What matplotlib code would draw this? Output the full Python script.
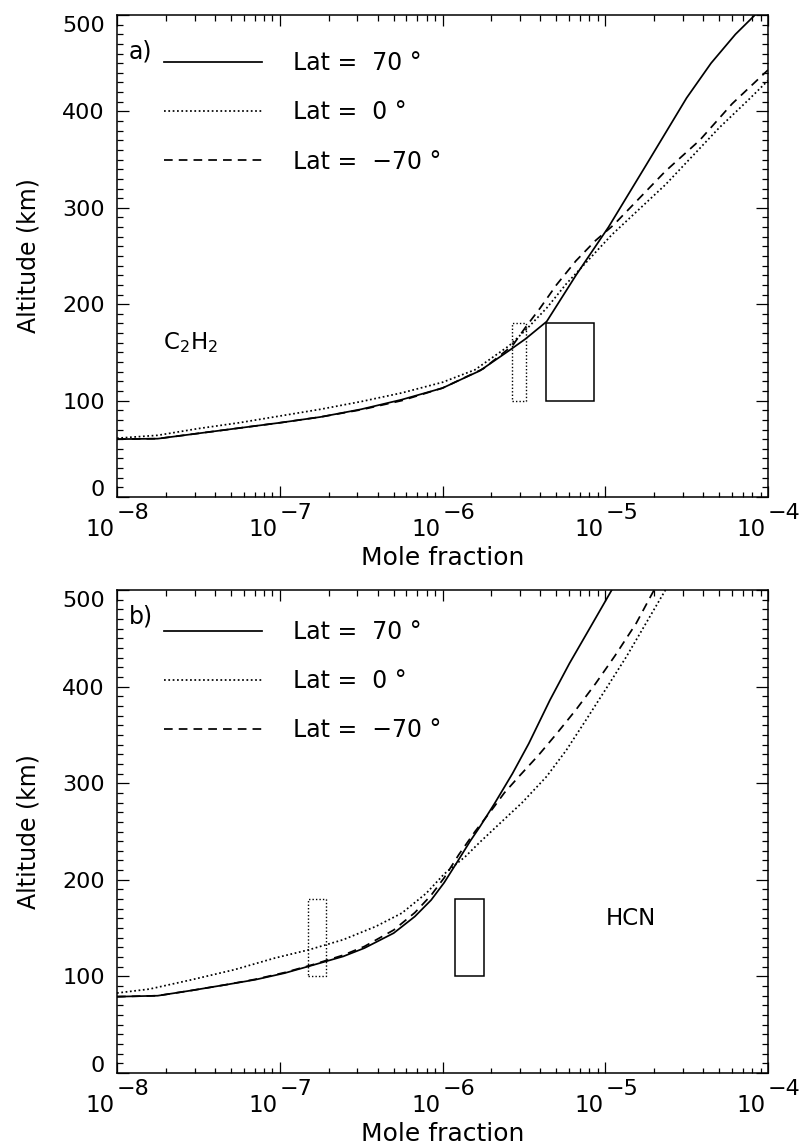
import numpy as np
import matplotlib
matplotlib.use("Agg")
import matplotlib.pyplot as plt
from matplotlib.patches import Rectangle
from matplotlib.ticker import LogLocator, MultipleLocator, NullFormatter, FixedLocator
from matplotlib.transforms import ScaledTranslation

plt.rcParams['font.family'] = ['DejaVu Sans']
plt.rcParams['mathtext.fontset'] = 'dejavusans'

# ---------------- data (log10 mole fraction, altitude km) ----------------
lat_labels = ['Lat =  70 \u00b0', 'Lat =  0 \u00b0', 'Lat =  \u221270 \u00b0']

# Panel a: C2H2
c2h2_lat70_logx = [-8.0, -7.75, -7.5, -7.25, -7.0, -6.75, -6.5, -6.25, -6.0, -5.77, -5.59,
                   -5.49, -5.36, -5.18, -4.98, -4.75, -4.5, -4.35, -4.2, -4.08]
c2h2_lat70_alt = [60, 60.5, 66, 71.5, 77, 83, 91, 101, 113, 131, 152,
                  164, 182, 230, 280, 344, 414, 450, 480, 500]

c2h2_lat0_logx = [-8.0, -7.75, -7.5, -7.25, -7.0, -6.75, -6.5, -6.25, -6.0, -5.8, -5.59,
                  -5.49, -5.36, -5.24, -4.96, -4.63, -4.3, -4.12, -4.0]
c2h2_lat0_alt = [61, 64, 71, 77, 84, 91, 99, 108, 119, 132, 157,
                 173, 196, 221, 272, 324, 383, 412, 432]

c2h2_latm70_logx = [-8.0, -7.75, -7.5, -7.25, -7.0, -6.75, -6.5, -6.25, -6.0, -5.75, -5.57,
                    -5.49, -5.40, -5.30, -5.18, -5.06, -4.95, -4.83, -4.63, -4.42, -4.22, -4.0]
c2h2_latm70_alt = [60, 60.5, 66, 71.5, 77, 83, 90.5, 100, 113, 133, 157,
                   176, 196, 220, 245, 266, 282, 303, 338, 370, 408, 443]

# Panel b: HCN
hcn_lat70_logx = [-8.0, -7.75, -7.54, -7.33, -7.15, -6.97, -6.79, -6.61, -6.48, -6.30, -6.17,
                  -6.07, -5.99, -5.915, -5.83, -5.77, -5.68, -5.57, -5.47, -5.34, -5.22, -5.10, -4.96]
hcn_lat70_alt = [79, 80, 85.5, 91.4, 96.6, 103.4, 112, 120.7, 129.3, 144.8, 162,
                 179, 197, 217, 240, 255, 279, 310, 341, 386, 424, 459, 500]

hcn_lat0_logx = [-8.0, -7.8, -7.54, -7.28, -7.03, -6.82, -6.61, -6.41, -6.25, -6.10, -5.99,
                 -5.86, -5.77, -5.65, -5.51, -5.36, -5.24, -5.12, -5.0, -4.87, -4.75, -4.63]
hcn_lat0_alt = [82.8, 86.9, 96.6, 106.9, 119, 127.6, 138, 151.7, 165.5, 186, 206,
                224, 239, 258, 280, 307, 334, 365, 396.5, 431, 465.5, 500]

hcn_latm70_logx = [-8.0, -7.75, -7.54, -7.33, -7.15, -6.97, -6.79, -6.61, -6.48, -6.30, -6.17,
                   -6.07, -5.99, -5.90, -5.80, -5.69, -5.62, -5.53, -5.41, -5.30, -5.18, -5.06,
                   -4.94, -4.81, -4.70]
hcn_latm70_alt = [79, 80, 85.5, 91.4, 97, 104, 112.5, 122, 131, 148, 166,
                  184, 202, 226, 250, 274, 290, 307, 329, 351, 376, 403,
                  432, 465.5, 500]

# observation boxes: (x_min, x_max, alt_min, alt_max)
c2h2_box_solid = (4.35e-6, 8.5e-6, 100, 180)
c2h2_box_dotted = (2.66e-6, 3.27e-6, 100, 180)
hcn_box_solid = (1.2e-6, 1.8e-6, 100, 180)
hcn_box_dotted = (1.5e-7, 1.92e-7, 100, 180)

x_tick_exponents = [-8, -7, -6, -5, -4]
y_ticks = [0, 100, 200, 300, 400, 500]

# ---------------- figure ----------------
W, H = 806, 1145
fig = plt.figure(figsize=(W / 100, H / 100), dpi=100)

ax_a = fig.add_axes([117 / W, 1 - 497 / H, 651 / W, 482 / H])
ax_b = fig.add_axes([117 / W, 1 - 1073 / H, 651 / W, 483 / H])

solid_kw = dict(color='black', lw=1.25, linestyle='-')
dot_kw = dict(color='black', lw=1.25, linestyle=(0, (1, 1.5)))
dash_kw = dict(color='black', lw=1.25, linestyle=(0, (5, 3.5)))


def px(p):
    return p * 0.72  # pixels -> points at 100 dpi


def setup_axis(ax):
    ax.set_xscale('log')
    ax.set_xlim(1e-8, 1e-4)
    ax.set_ylim(0, 500)
    ax.xaxis.set_major_locator(FixedLocator([10.0 ** e for e in x_tick_exponents]))
    ax.xaxis.set_minor_locator(LogLocator(base=10, subs=np.arange(2, 10), numticks=20))
    ax.xaxis.set_minor_formatter(NullFormatter())
    ax.set_yticks(y_ticks)
    ax.yaxis.set_minor_locator(MultipleLocator(10))
    ax.tick_params(axis='both', which='both', direction='in', top=True, right=True,
                   width=0.9, colors='black')
    ax.tick_params(axis='x', which='major', length=px(11), labelbottom=False)
    ax.tick_params(axis='x', which='minor', length=px(5.5))
    ax.tick_params(axis='y', which='major', length=px(12), labelsize=16, pad=px(12))
    ax.tick_params(axis='y', which='minor', length=px(6))
    for s in ax.spines.values():
        s.set_linewidth(1.1)
    # custom decade labels with full-size exponents
    for e in x_tick_exponents:
        ax.annotate('10', xy=(10.0 ** e, 0), xycoords=('data', 'axes fraction'),
                    xytext=(px(-2), px(-21)), textcoords='offset points',
                    ha='right', va='top', fontsize=16.5)
        ax.annotate('\u2212%d' % abs(e), xy=(10.0 ** e, 0), xycoords=('data', 'axes fraction'),
                    xytext=(px(0), px(-6)), textcoords='offset points',
                    ha='left', va='top', fontsize=16)
    ax.set_xlabel('Mole fraction', fontsize=18, labelpad=px(44))
    ax.set_ylabel('Altitude (km)', fontsize=17, labelpad=px(22))
    # end labels nudged inward like the original
    ticks = ax.yaxis.get_major_ticks()
    lab0 = ticks[0].label1
    lab0.set_transform(lab0.get_transform() + ScaledTranslation(0, 9 / 100, fig.dpi_scale_trans))
    labN = ticks[-1].label1
    labN.set_transform(labN.get_transform() + ScaledTranslation(0, -9 / 100, fig.dpi_scale_trans))


def add_box(ax, box, **kw):
    x0, x1, y0, y1 = box
    ax.add_patch(Rectangle((x0, y0), x1 - x0, y1 - y0, fill=False, edgecolor='black', **kw))


panels = [
    (ax_a, 'a)', (c2h2_lat70_logx, c2h2_lat70_alt), (c2h2_lat0_logx, c2h2_lat0_alt),
     (c2h2_latm70_logx, c2h2_latm70_alt), c2h2_box_solid, c2h2_box_dotted,
     r'C$_2$H$_2$', 1.91e-8, 0.924, 0.925),
    (ax_b, 'b)', (hcn_lat70_logx, hcn_lat70_alt), (hcn_lat0_logx, hcn_lat0_alt),
     (hcn_latm70_logx, hcn_latm70_alt), hcn_box_solid, hcn_box_dotted,
     'HCN', 1.0e-5, 0.945, 0.938),
]

for (ax, tag, s70, s0, sm70, bsolid, bdot, species, spx, tag_y, leg_y) in panels:
    setup_axis(ax)
    l1, = ax.plot(10.0 ** np.array(s70[0]), s70[1], **solid_kw)
    l2, = ax.plot(10.0 ** np.array(s0[0]), s0[1], **dot_kw)
    l3, = ax.plot(10.0 ** np.array(sm70[0]), sm70[1], **dash_kw)
    add_box(ax, bsolid, lw=1.1, linestyle='-')
    add_box(ax, bdot, lw=1.0, linestyle=(0, (1, 1.5)))
    ax.text(spx, 160, species, fontsize=16.5, ha='left', va='center')
    ax.text(0.018, tag_y, tag, transform=ax.transAxes, fontsize=17, ha='left', va='center')
    ax.legend([l1, l2, l3], lat_labels, loc='upper left', bbox_to_anchor=(0.072, leg_y),
              frameon=False, fontsize=17, handlelength=4.15, handletextpad=1.3,
              labelspacing=1.07, borderpad=0, borderaxespad=0)

fig.savefig('out.png', dpi=100)
